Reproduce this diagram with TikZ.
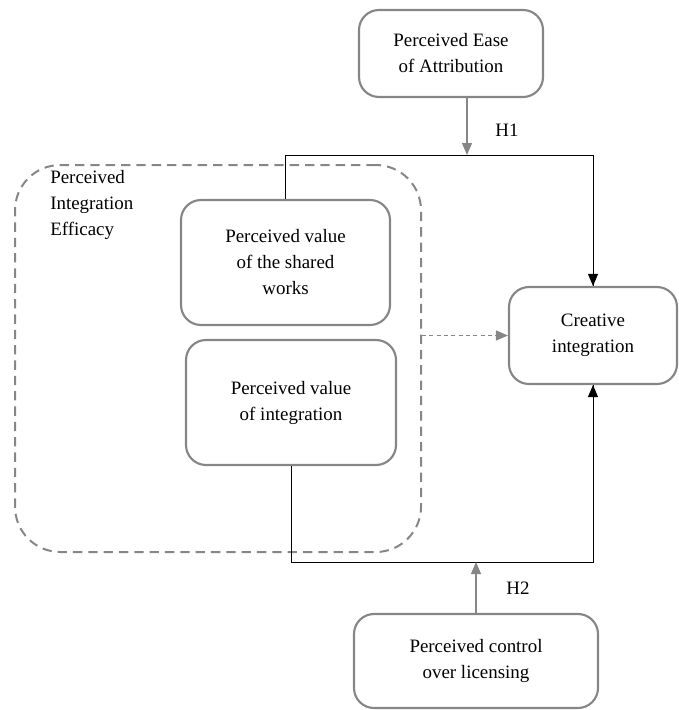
\documentclass[tikz,border=0pt]{standalone}
\usepackage{fontspec}
\setmainfont{Liberation Serif}
\usetikzlibrary{arrows.meta,calc}

\begin{document}
\begin{tikzpicture}[x=0.75pt, y=-0.75pt,
    box/.style={draw=gray!95, line width=1.6pt, rounded corners=15pt, align=center,
                font=\fontsize{14.2}{19.5}\selectfont, inner sep=2pt},
    blackline/.style={black, line width=0.75pt},
    garrow/.style={gray!95, line width=0.8pt, -{Triangle[length=9pt,width=7.5pt]}},
    barrow/.style={black, line width=0.75pt, -{Triangle[length=9pt,width=7.5pt]}}]
    \useasboundingbox (0,0) rectangle (678,710);

    % Efficacy group
    \node[draw=gray!95, line width=1.5pt, dash pattern=on 7pt off 4.5pt, rounded corners=34pt,
          minimum width=304.5pt, minimum height=290.25pt] (efficacy) at (218,358.5) {};
    \node[anchor=north west, align=left, font=\fontsize{14.2}{19.5}\selectfont, inner sep=0pt]
          (efflabel) at (50,170) {Perceived\\Integration\\Efficacy};

    % Boxes
    \node[box, minimum width=138pt, minimum height=65.25pt] (ease) at (451,53.5)
          {Perceived Ease\\of Attribution};
    \node[box, minimum width=156.75pt, minimum height=93.75pt] (shared) at (285.5,262.5)
          {Perceived value\\of the shared\\works};
    \node[box, minimum width=157.5pt, minimum height=93.75pt] (integration) at (291,402.5)
          {Perceived value\\of integration};
    \node[box, minimum width=126pt, minimum height=72.75pt] (creative) at (593,335.5)
          {Creative\\integration};
    \node[box, minimum width=183pt, minimum height=70.5pt] (control) at (476,661)
          {Perceived control\\over licensing};

    % H1 path
    \coordinate (hone) at (467,155);
    \draw[blackline] (shared.north) -- (shared.north |- hone) -| (creative.north);
    \draw[barrow] ($(creative.north)+(0,-30)$) -- (creative.north);
    \draw[garrow] (ease.south -| hone) -- (hone);
    \node[font=\fontsize{14.2}{16}\selectfont] (hlabelone) at (507,130) {H1};

    % H2 path
    \coordinate (htwo) at (476,562);
    \draw[blackline] (integration.south) -- (integration.south |- htwo) -| (creative.south);
    \draw[barrow] ($(creative.south)+(0,30)$) -- (creative.south);
    \draw[garrow] (control.north) -- (htwo);
    \node[font=\fontsize{14.2}{16}\selectfont] (hlabeltwo) at (518,588) {H2};

    % Efficacy to creative integration
    \draw[garrow, dash pattern=on 3pt off 2.5pt] (efficacy.east |- creative) -- (creative.west);
\end{tikzpicture}
\end{document}
